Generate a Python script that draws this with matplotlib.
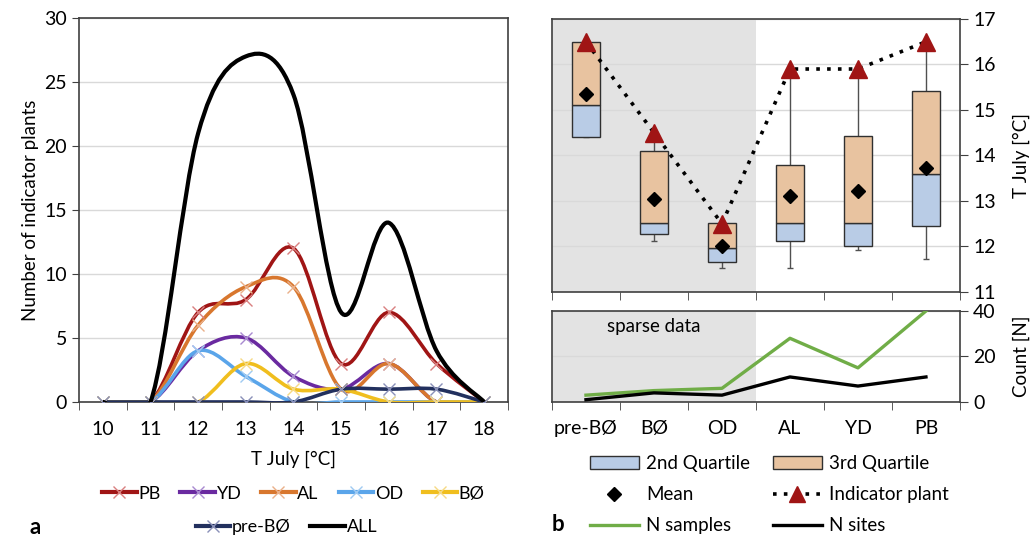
import numpy as np
import matplotlib
matplotlib.use("Agg")
import matplotlib.pyplot as plt
from matplotlib.path import Path
from matplotlib.patches import PathPatch, Patch
from matplotlib.lines import Line2D

plt.rcParams['font.family'] = ['Lato', 'DejaVu Sans']
plt.rcParams['font.size'] = 13

# ---- panel a data ----
temps = [10, 11, 12, 13, 14, 15, 16, 17, 18]
pb     = [0, 0, 7, 8, 12, 3, 7, 3, 0]
yd     = [0, 0, 4, 5, 2, 1, 3, 0, 0]
al     = [0, 0, 6, 9, 9, 1, 3, 0, 0]
od     = [0, 0, 4, 2, 0, 0, 0, 0, 0]
bo     = [0, 0, 0, 3, 1, 1, 0, 0, 0]
prebo  = [0, 0, 0, 0, 0, 1, 1, 1, 0]
all_   = [0, 0, 21, 27, 24, 7, 14, 4, 0]

# ---- panel b data ----
periods   = ["pre-BØ", "BØ", "OD", "AL", "YD", "PB"]
q1        = [14.4, 12.27, 11.66, 12.12, 12.02, 12.45]
median    = [15.1, 12.52, 11.97, 12.52, 12.52, 13.6]
q3        = [16.5, 14.1, 12.52, 13.8, 14.42, 15.42]
t_min     = [14.4, 12.12, 11.53, 11.53, 11.92, 11.72]
t_max     = [16.5, 14.5, 12.52, 15.9, 15.9, 16.5]
t_mean    = [15.35, 13.05, 12.02, 13.1, 13.23, 13.73]
indicator = [16.5, 14.5, 12.5, 15.9, 15.9, 16.5]
n_samples = [3, 5, 6, 28, 15, 40]
n_sites   = [1, 4, 3, 11, 7, 11]


def smooth_path(xs, ys):
    # Excel-like smoothed line: Catmull-Rom as cubic Bezier segments
    pts = np.column_stack([xs, ys]).astype(float)
    n = len(pts)
    verts = [pts[0]]
    codes = [Path.MOVETO]
    for i in range(n - 1):
        p0 = pts[i - 1] if i > 0 else pts[i]
        p1 = pts[i]
        p2 = pts[i + 1]
        p3 = pts[i + 2] if i + 2 < n else pts[i + 1]
        verts += [p1 + (p2 - p0) / 6, p2 - (p3 - p1) / 6, p2]
        codes += [Path.CURVE4] * 3
    return Path(verts, codes)


spine_c = '#404040'
grid_c = '#d9d9d9'
tick_fs = 14

fig = plt.figure(figsize=(10.3, 5.4), dpi=100)

# ================= panel a =================
ax = fig.add_axes([0.0767, 0.2556, 0.4165, 0.7111])
xpos = np.arange(len(temps))
series = [
    ("PB", pb, '#a01515', '#d98080'),
    ("YD", yd, '#6a2aa0', '#a98ad0'),
    ("AL", al, '#d8772e', '#eab08a'),
    ("OD", od, '#5aa5ea', '#9fcaf2'),
    ("BØ", bo, '#f0be1e', '#f6da85'),
    ("pre-BØ", prebo, '#22305e', '#8a90b8'),
]
handles_a = []
for name, vals, col, mcol in series:
    ax.add_patch(PathPatch(smooth_path(xpos, vals), fill=False, edgecolor=col,
                           lw=2.6, zorder=3, capstyle='round'))
    ax.plot(xpos, vals, ls='none', marker='x', ms=9, mew=1.0, color=mcol, zorder=4)
    handles_a.append(Line2D([], [], color=col, lw=3, marker='x', ms=9,
                            mew=1.0, mec=mcol, label=name))
ax.add_patch(PathPatch(smooth_path(xpos, all_), fill=False, edgecolor='black',
                       lw=3, zorder=5))
h_all = Line2D([], [], color='black', lw=3, label='ALL')

ax.set_xlim(-0.5, len(temps) - 0.5)
ax.set_ylim(0, 30)
ax.set_yticks(range(0, 31, 5))
ax.set_xticks(xpos)
ax.set_xticklabels([str(t) for t in temps])
ax.set_xticks(np.arange(-0.5, len(temps), 1), minor=True)
ax.tick_params(axis='x', which='major', length=0, pad=14, labelsize=tick_fs)
ax.tick_params(axis='x', which='minor', length=6, direction='out', color=spine_c)
ax.tick_params(axis='y', length=5, direction='out', color=spine_c, labelsize=tick_fs)
ax.grid(axis='y', color=grid_c, lw=1)
ax.set_axisbelow(True)
for s in ax.spines.values():
    s.set_color(spine_c)
    s.set_linewidth(1.2)
ax.set_ylabel("Number of indicator plants", fontsize=13.5)
ax.set_xlabel("T July [°C]", labelpad=9, fontsize=13.5)

fig.legend(handles=handles_a[:5], loc='center', bbox_to_anchor=(0.285, 0.086),
           ncol=5, frameon=False, handlelength=1.9, handletextpad=0.1,
           columnspacing=1.1)
fig.legend(handles=handles_a[5:] + [h_all], loc='center', bbox_to_anchor=(0.278, 0.024),
           ncol=2, frameon=False, handlelength=1.9, handletextpad=0.1,
           columnspacing=1.1)
fig.text(0.034, 0.024, "a", fontsize=16, fontweight='bold', va='center', ha='center')

# ================= panel b top =================
bx = fig.add_axes([0.5359, 0.4593, 0.3961, 0.5056])
cx = fig.add_axes([0.5359, 0.2556, 0.3961, 0.1685], sharex=bx)
ppos = np.arange(len(periods))
box_w = 0.41
blue = '#b9cce6'
tan = '#e8c3a0'

for a_ in (bx, cx):
    a_.axvspan(-0.5, 2.5, color='#e3e3e3', zorder=0, lw=0)

bx.vlines(ppos, t_min, t_max, color='#505050', lw=1, zorder=2)
bx.hlines(t_min, ppos - 0.05, ppos + 0.05, color='#505050', lw=1, zorder=2)
bx.bar(ppos, np.array(median) - np.array(q1), bottom=q1, width=box_w, color=blue,
       edgecolor='#303030', lw=1, zorder=3)
bx.bar(ppos, np.array(q3) - np.array(median), bottom=median, width=box_w, color=tan,
       edgecolor='#303030', lw=1, zorder=3)
bx.plot(ppos, indicator, ls=(0, (1, 2)), color='black', lw=2.6, zorder=4)
bx.plot(ppos, indicator, ls='none', marker='^', ms=13, color='#a01515', zorder=5)
bx.plot(ppos, t_mean, ls='none', marker='D', ms=7, color='black', zorder=6)

bx.set_xlim(-0.5, len(periods) - 0.5)
bx.set_ylim(11, 17)
bx.yaxis.tick_right()
bx.yaxis.set_label_position('right')
bx.set_yticks(range(11, 18))
bx.set_ylabel("T July [°C]", labelpad=12, fontsize=13.5)
bx.grid(axis='y', color=grid_c, lw=1, zorder=1)
bx.set_axisbelow(True)
bx.tick_params(axis='x', which='both', labelbottom=False)
bx.tick_params(axis='y', length=6, direction='out', color=spine_c, labelsize=tick_fs)

# ================= panel b bottom =================
cx.plot(ppos, n_samples, color='#70ad47', lw=2.4, zorder=3)
cx.plot(ppos, n_sites, color='black', lw=2.4, zorder=3)
cx.set_ylim(0, 40)
cx.set_yticks([0, 20, 40])
cx.yaxis.tick_right()
cx.yaxis.set_label_position('right')
cx.set_ylabel("Count [N]", labelpad=12, fontsize=13.5)
cx.grid(axis='y', color=grid_c, lw=1, zorder=1)
cx.set_axisbelow(True)
cx.text(1.0, 33, "sparse data", ha='center', va='center', fontsize=13.5)
cx.set_xticks(ppos)
cx.set_xticklabels(periods)
cx.set_xticks(np.arange(-0.5, len(periods), 1), minor=True)
cx.tick_params(axis='x', which='major', length=0, pad=13, labelsize=tick_fs)
cx.tick_params(axis='x', which='minor', length=6, direction='out', color=spine_c)
cx.tick_params(axis='y', length=6, direction='out', color=spine_c, labelsize=tick_fs)
bx.set_xticks(np.arange(-0.5, len(periods), 1), minor=True)
bx.tick_params(axis='x', which='minor', length=6, direction='out', color=spine_c)
bx.tick_params(axis='x', which='major', length=0)

for a_ in (bx, cx):
    for s in a_.spines.values():
        s.set_color(spine_c)
        s.set_linewidth(1.2)

handles_b = [
    Patch(facecolor=blue, edgecolor='#303030', label='2nd Quartile'),
    Line2D([], [], ls='none', marker='D', ms=7, color='black', label='Mean'),
    Line2D([], [], color='#70ad47', lw=2.4, label='N samples'),
    Patch(facecolor=tan, edgecolor='#303030', label='3rd Quartile'),
    Line2D([], [], color='black', ls=(0, (1, 2)), lw=2.6, marker='^', ms=11,
           mfc='#a01515', mec='#a01515', label='Indicator plant'),
    Line2D([], [], color='black', lw=2.4, label='N sites'),
]
fig.legend(handles=handles_b, loc='center', bbox_to_anchor=(0.747, 0.084), ncol=2,
           frameon=False, handlelength=2.6, handletextpad=0.4, columnspacing=1.2,
           labelspacing=0.75, fontsize=13.5)
fig.text(0.542, 0.028, "b", fontsize=16, fontweight='bold', va='center', ha='center')

fig.savefig("out.png", dpi=100)
